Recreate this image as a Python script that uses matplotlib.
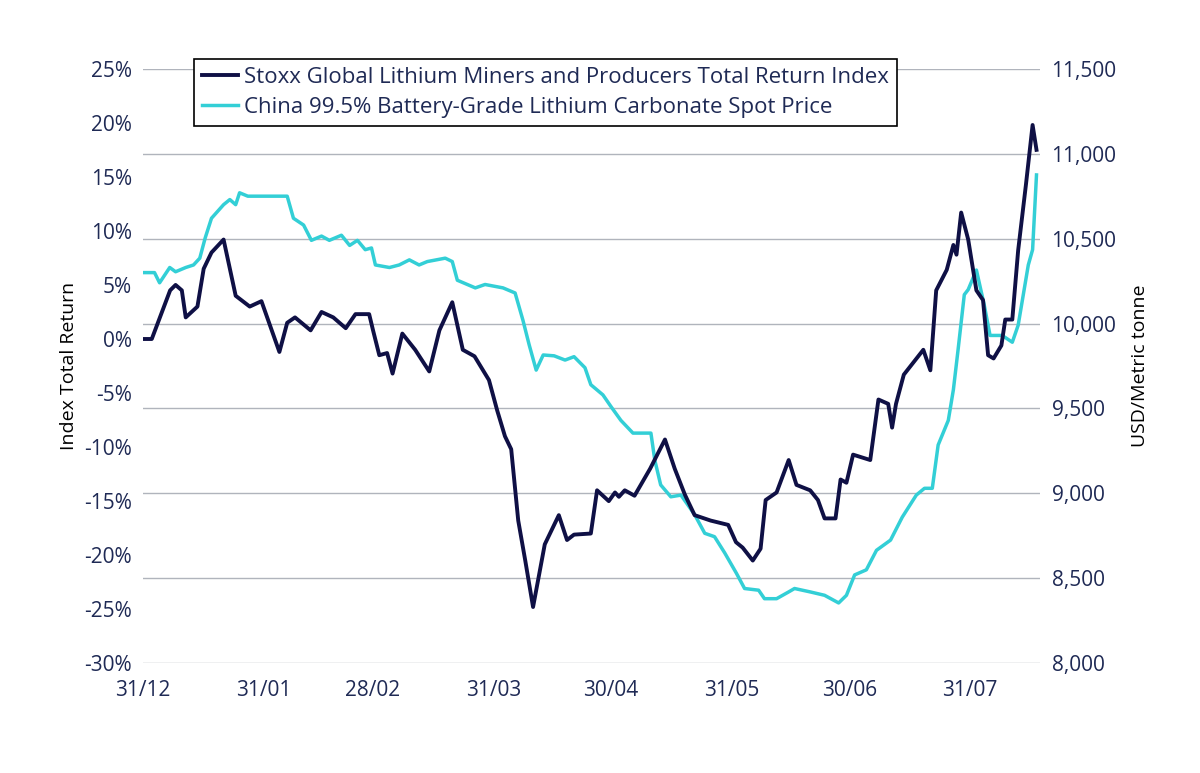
#!/usr/bin/env python3
"""Lithium miners index vs lithium carbonate spot price, Dec 31 to mid-Aug."""
import matplotlib
matplotlib.use("Agg")
import matplotlib.pyplot as plt

# day offsets from 31/12 and values
miners_days = [0, 2.3, 7, 8.4, 10, 11, 14, 15.6, 17.6, 20.7, 23.8, 27.4, 30.4, 35, 37, 39, 43,
               45.8, 48.8, 52, 54.5, 58, 59, 60.6, 62.6, 64, 66.5, 69.8, 73.4, 76, 79.3, 82, 85,
               88.7, 90.8, 92.8, 94.4, 96.2, 98, 100, 101.5, 103, 106.6, 108.7, 110.5, 114.8,
               116.4, 119.4, 121, 122, 123.5, 126, 127.6, 130, 133.8, 136.3, 138.9, 141.4, 145.5,
               150, 152, 153.7, 156.3, 158.3, 159.6, 162.4, 165.5, 167.5, 171, 173, 174.7, 177.5,
               178.8, 180.3, 182, 186.4, 188.5, 191, 192, 193, 195, 200, 201.8, 203.3, 206, 207.7,
               208.5, 209.7, 211.5, 213.6, 215.3, 216.6, 218, 220, 221, 222.8, 224.3, 226.3, 228, 229]
miners_ret = [0, 0, 4.5, 5, 4.5, 2, 3, 6.5, 8, 9.2, 4, 3, 3.5, -1.2, 1.5, 2, 0.8,
              2.5, 2, 1, 2.3, 2.3, 0.8, -1.5, -1.3, -3.2, 0.5, -1, -3, 0.8, 3.4, -1, -1.6,
              -3.8, -6.6, -9, -10.2, -16.8, -20.5, -24.8, -21.9, -19, -16.3, -18.6, -18.1, -18,
              -14, -15, -14.2, -14.6, -14, -14.5, -13.5, -12, -9.3, -12, -14.4, -16.3, -16.8,
              -17.2, -18.8, -19.3, -20.5, -19.4, -14.9, -14.2, -11.2, -13.5, -14, -14.9, -16.6, -16.6,
              -13, -13.3, -10.7, -11.2, -5.6, -6, -8.2, -6, -3.3, -1, -2.9, 4.5, 6.4, 8.7,
              7.8, 11.7, 9.2, 4.5, 3.6, -1.5, -1.8, -0.6, 1.8, 1.8, 8.2, 14.3, 19.8, 17.5]

spot_days = [0, 3, 4.3, 6.9, 8.4, 11, 13, 14.6, 16, 17.6, 20.7, 22.3, 23.8, 24.8, 26.9, 30.4,
             37, 38.6, 41.2, 43.2, 45.8, 47.8, 50.9, 53, 55, 57, 58.6, 59.6, 63.2, 65.7, 68.3,
             70.8, 72.9, 77.5, 79.3, 80.6, 85.2, 87.7, 92.3, 95.4, 97.4, 99, 100.8, 102.6, 105.4,
             108.2, 110.5, 113.3, 114.8, 117.9, 120, 122.5, 125.6, 130.2, 131.2, 132.7, 135.3,
             137.9, 141.4, 144, 146.5, 149.1, 152.1, 154.2, 157.8, 159.3, 162.4, 165.5, 167,
             171, 174.7, 178.3, 180.3, 182.4, 185.4, 188, 191.6, 194.6, 198.2, 200.3, 202.3,
             203.8, 206.4, 207.7, 208.9, 210.5, 211.5, 213.6, 215.6, 217.1, 220.2, 222.8, 224.3,
             226.9, 228, 229]
spot_price = [10300, 10300, 10240, 10330, 10305, 10330, 10345, 10385, 10505, 10620, 10700, 10730,
              10700, 10770, 10750, 10750, 10750, 10620, 10580, 10490, 10515, 10490, 10520, 10460,
              10490, 10435, 10445, 10345, 10330, 10345, 10375, 10345, 10365, 10385, 10365, 10255,
              10210, 10230, 10210, 10180, 10020, 9875, 9726, 9815, 9810, 9785, 9805, 9740, 9640,
              9580, 9510, 9430, 9355, 9355, 9195, 9050, 8980, 8990, 8875, 8765, 8745, 8650, 8530,
              8440, 8430, 8380, 8380, 8420, 8440, 8420, 8400, 8355, 8400, 8520, 8550, 8665, 8725,
              8860, 8990, 9030, 9030, 9285, 9430, 9610, 9845, 10170, 10200, 10315, 10110, 9930,
              9930, 9890, 9990, 10345, 10435, 10875]

tick_days = [0, 31, 59, 90, 120, 151, 181, 212]
tick_labels = ["31/12", "31/01", "28/02", "31/03", "30/04", "31/05", "30/06", "31/07"]

NAVY = "#0f1045"
CYAN = "#33cfd6"
TXT = "#1f2a55"

plt.rcParams["font.family"] = ["Open Sans", "DejaVu Sans"]
fig = plt.figure(figsize=(12, 7.73), dpi=100)
ax = fig.add_axes([0.119, 0.142, 0.748, 0.769])
ax2 = ax.twinx()

ax.set_ylim(-30, 25)
ax.set_yticks(range(-30, 26, 5))
ax.set_yticklabels([f"{v}%" for v in range(-30, 26, 5)])
ax2.set_ylim(8000, 11500)
ax2.set_yticks(range(8000, 11501, 500))
ax2.set_yticklabels([f"{v:,}" for v in range(8000, 11501, 500)])
ax.set_xlim(0, 230)
ax.set_xticks(tick_days)
ax.set_xticklabels(tick_labels)
ax2.grid(axis="y", color="#b0b4bc", lw=1, zorder=0)
ax2.set_axisbelow(True)

# miners on the left axis, drawn above the spot price line
ax.set_zorder(ax2.get_zorder() + 1)
ax.patch.set_visible(False)
line_s, = ax2.plot(spot_days, spot_price, color=CYAN, lw=2.5,
                   label="China 99.5% Battery-Grade Lithium Carbonate Spot Price")
line_m, = ax.plot(miners_days, miners_ret, color=NAVY, lw=2.8,
                  label="Stoxx Global Lithium Miners and Producers Total Return Index")

for a in (ax, ax2):
    for s in a.spines.values():
        s.set_visible(False)
    a.tick_params(length=0, labelsize=15, colors=TXT, pad=8)
ax.tick_params(axis="x", pad=12)
ax.set_ylabel("Index Total Return", fontsize=14, color="black")
ax2.set_ylabel("USD/Metric tonne", fontsize=14, color="black", labelpad=10)

leg = ax.legend(handles=[line_m, line_s], loc="upper left", bbox_to_anchor=(0.045, 1.035),
                fontsize=16, frameon=True, fancybox=False, edgecolor="black",
                handlelength=1.6, handletextpad=0.3, borderpad=0.35, labelspacing=0.4)
leg.get_frame().set_linewidth(1.2)
leg.get_frame().set_alpha(1)
for t in leg.get_texts():
    t.set_color(TXT)

fig.savefig("out.png", dpi=100)
